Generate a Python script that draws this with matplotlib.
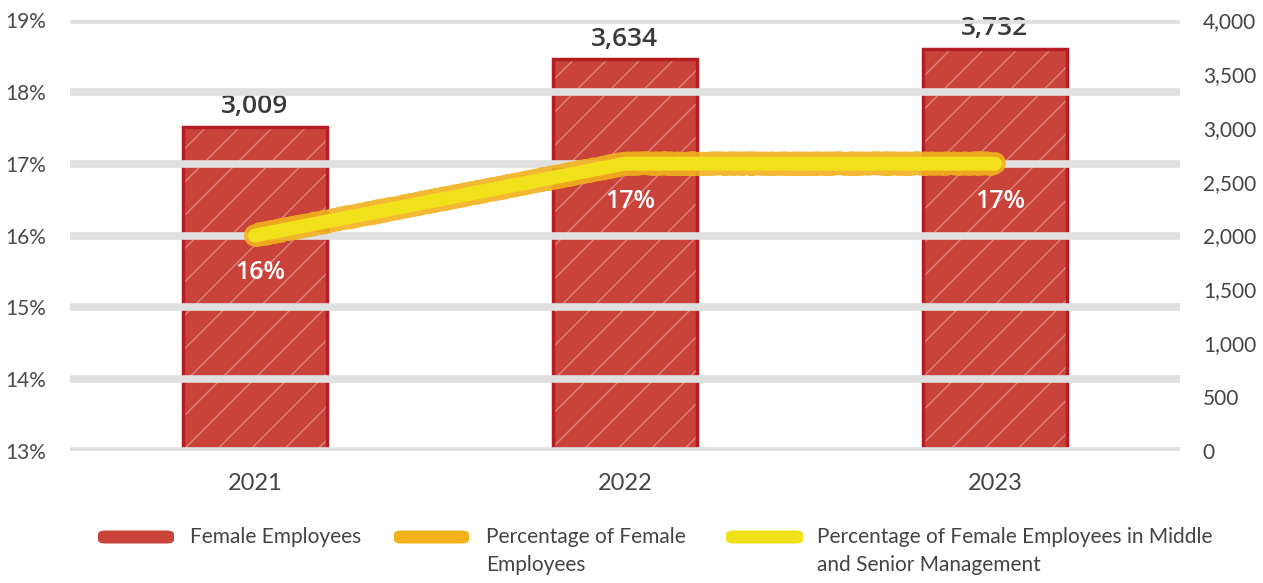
import matplotlib
matplotlib.use("Agg")
import matplotlib.pyplot as plt
from matplotlib.patches import FancyBboxPatch
from matplotlib.ticker import FuncFormatter

# Data
years = ["2021", "2022", "2023"]
female_employees = [3009, 3634, 3732]
pct_female = [16, 17, 17]
pct_female_mgmt = [16, 17, 17]
pct_ticks = [13, 14, 15, 16, 17, 18, 19]
count_ticks = [0, 500, 1000, 1500, 2000, 2500, 3000, 3500, 4000]
legend_labels = [["Female Employees"],
                 ["Percentage of Female", "Employees"],
                 ["Percentage of Female Employees in Middle", "and Senior Management"]]

BAR_FILL = "#c9433a"
BAR_EDGE = "#b51d25"
ORANGE = "#f2b21e"
YELLOW = "#f1e11a"
GRID = "#e0e0e0"
TICK_FONT = dict(family="Lato", weight="normal")

fig = plt.figure(figsize=(12.63, 5.83), dpi=100)
ax = fig.add_axes([0.0554, 0.2264, 0.8788, 0.7393])
ax2 = ax.twinx()

x = list(range(len(years)))

# Left axis: percentages, with thick grey grid bands
ax.set_ylim(13, 19)
ax.set_yticks(pct_ticks)
ax.yaxis.set_major_formatter(FuncFormatter(lambda v, p: f"{v:.0f}%"))
ax.set_xlim(-0.5, 2.5)
ax.set_xticks(x)
ax.set_xticklabels(years)
for t in pct_ticks:
    ax.axhline(t, color=GRID, lw=5.5, zorder=0, solid_capstyle="round")
for s in ax.spines.values():
    s.set_visible(False)
ax.tick_params(axis="both", length=0)
ax.tick_params(axis="y", pad=17, labelsize=15, labelcolor="#4a4a4a")
ax.tick_params(axis="x", pad=16, labelsize=17, labelcolor="#444444")
for lab in ax.get_yticklabels() + ax.get_xticklabels():
    lab.set(**TICK_FONT)

# Right axis: headcount bars
ax2.set_ylim(0, 4000)
ax2.set_yticks(count_ticks)
ax2.yaxis.set_major_formatter(FuncFormatter(lambda v, p: f"{v:,.0f}"))
for s in ax2.spines.values():
    s.set_visible(False)
ax2.tick_params(axis="y", length=0, pad=16.5, labelsize=15, labelcolor="#444444")
for lab in ax2.get_yticklabels():
    lab.set(**TICK_FONT)

w = 0.39
ax2.bar(x, female_employees, width=w, color=BAR_FILL, lw=0, zorder=2)
ax2.bar(x, female_employees, width=w, facecolor="none", edgecolor="white",
        hatch="/", lw=0, alpha=0.35, zorder=3)
ax2.bar(x, female_employees, width=w, facecolor="none", edgecolor=BAR_EDGE,
        lw=2.5, zorder=4)
for xi, v in zip(x, female_employees):
    ax2.text(xi, v + 70, f"{v:,}", ha="center", va="bottom", fontsize=19,
             fontweight="semibold", color="#3a3a3a", family="Open Sans", zorder=6)

# Percentage lines drawn on top of the bars
ax.set_zorder(ax2.get_zorder() + 1)
ax.patch.set_visible(False)
l1, = ax.plot(x, pct_female, color=ORANGE, lw=16, solid_capstyle="round",
              solid_joinstyle="round", zorder=5, alpha=0.9)
l1.set_sketch_params(scale=1.2, length=6, randomness=3)
ax.plot(x, pct_female_mgmt, color=YELLOW, lw=10, solid_capstyle="round",
        solid_joinstyle="round", zorder=6)
for xi, v in zip(x, pct_female_mgmt):
    ax.text(xi + 0.015, v - 0.52, f"{v}%", ha="center", va="center", fontsize=18,
            fontweight="semibold", color="white", family="Open Sans", zorder=7)

# Legend along the bottom
fy = 1 - 537 / 583
hh = 13 / 583
handles = [(98, 76, BAR_FILL), (394, 75, ORANGE), (726, 77, YELLOW)]
text_x = [190, 486, 817]
for (hx, hw, col), tx, lines in zip(handles, text_x, legend_labels):
    p = FancyBboxPatch((hx / 1263, fy - hh / 2), hw / 1263, hh,
                       boxstyle="round,pad=0,rounding_size=0.006",
                       transform=fig.transFigure, facecolor=col, edgecolor="none")
    fig.add_artist(p)
    for i, line in enumerate(lines):
        fig.text(tx / 1263, fy - i * 28 / 583, line, ha="left", va="center",
                 fontsize=15, color="#444444", **TICK_FONT)

fig.savefig("out.png", dpi=100)
